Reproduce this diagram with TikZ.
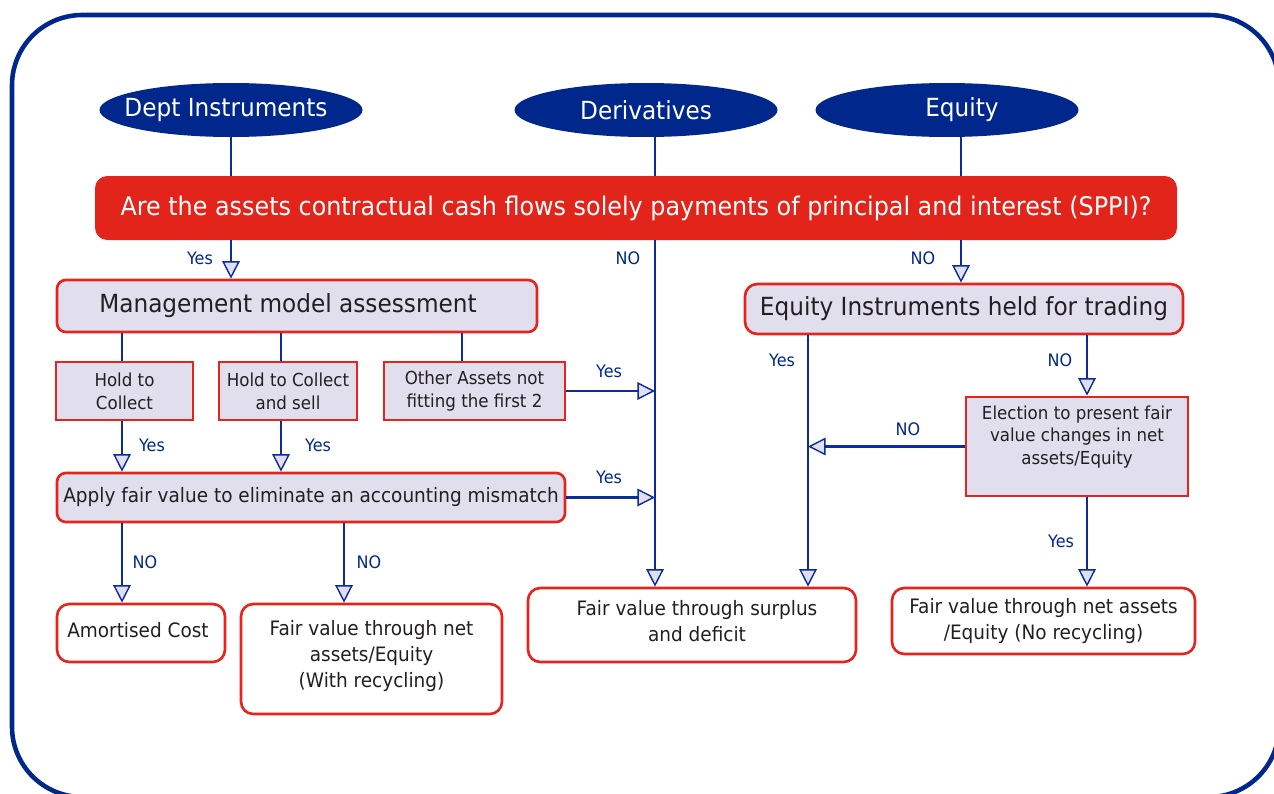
\documentclass[tikz,border=0pt]{standalone}
\usepackage{fontspec}
\setmainfont{DejaVu Sans}[FakeStretch=0.93]
\usetikzlibrary{arrows.meta,shapes.geometric,calc}
\definecolor{navy}{RGB}{0,40,140}
\definecolor{lnblue}{RGB}{10,45,155}
\definecolor{boxred}{RGB}{230,36,30}
\definecolor{sppired}{RGB}{227,36,27}
\definecolor{lav}{RGB}{225,222,238}
\definecolor{ink}{RGB}{35,31,32}
\newlength\pxu
\setlength\pxu{0.02cm}
\newcommand\fbig{\fontsize{14.2}{17}\selectfont}
\newcommand\fsppi{\fontsize{14.6}{17}\selectfont}
\newcommand\fmid{\fontsize{11.3}{14.8}\selectfont}
\newcommand\fsm{\fontsize{10.2}{13}\selectfont}
\newcommand\flab{\fontsize{9.8}{11}\selectfont}
\tikzset{
  ell/.style={ellipse, fill=navy, draw=none, text=white, inner sep=0pt, minimum width=263\pxu, minimum height=54\pxu, font=\fbig},
  sppibox/.style={rectangle, rounded corners=7pt, fill=sppired, draw=none, text=white, inner sep=0pt, font=\fsppi},
  rbox/.style={rectangle, rounded corners=5pt, fill=lav, draw=boxred, line width=1.5pt, text=ink, inner sep=0pt, align=center},
  sbox/.style={rectangle, fill=lav, draw=boxred, line width=1.5pt, text=ink, inner sep=0pt, align=center},
  wbox/.style={rectangle, rounded corners=7pt, fill=white, draw=boxred, line width=1.5pt, text=ink, inner sep=0pt, align=center, font=\fmid},
  txt/.style={text=ink, inner sep=0pt, align=center},
  conn/.style={draw=lnblue, line width=1.4pt},
  arr/.style={conn, -{Triangle[length=10pt, width=10pt, fill=lav, line width=0.8pt]}},
  lab/.style={text=navy, inner sep=0pt, font=\flab},
  frame/.style={draw=navy, line width=2.6pt, rounded corners=40pt}
}
\begin{document}
\begin{tikzpicture}[x=0.02cm, y=-0.02cm]
\path[use as bounding box, clip] (0,0) rectangle (1274,794);
\draw[frame] (12,15) rectangle (1279,797);
% column coordinates
\coordinate (xD) at (655,0);
\coordinate (xE) at (961,0);
\coordinate (xA) at (122,0);
\coordinate (xB) at (281,0);
\coordinate (xC) at (462,0);
\coordinate (xF) at (344,0);
\coordinate (xY) at (808,0);
\coordinate (xN) at (1087,0);
% top ellipses
\node[ell] (dept) at (231,110) {\makebox[0pt]{\hspace*{-10\pxu}Dept Instruments}};
\node[ell] (deriv) at (646,110) {\makebox[0pt]{Derivatives}};
\node[ell] (equity) at (947,110) {\makebox[0pt]{\hspace*{30\pxu}Equity}};
% SPPI
\node[sppibox, minimum width=1082\pxu, minimum height=64\pxu] (sppi) at (636,208) {Are the assets contractual cash flows solely payments of principal and interest (SPPI)?};
% management
\node[rbox, minimum width=480\pxu, minimum height=52\pxu, font=\fbig] (mgmt) at (297,306) {\hspace*{-18\pxu}Management model assessment};
\node[sbox, minimum width=137\pxu, minimum height=58\pxu, font=\fsm] (htc) at (124.5,391) {Hold to\\Collect};
\node[sbox, minimum width=138\pxu, minimum height=58\pxu, font=\fsm] (htcs) at (288,391) {Hold to Collect\\and sell};
\node[sbox, minimum width=181\pxu, minimum height=58\pxu, font=\fsm] (other) at (474.5,391) {Other Assets not\\fitting the first 2};
\node[rbox, minimum width=508\pxu, minimum height=49\pxu, font=\fmid] (apply) at (311,497.5) {Apply fair value to eliminate an accounting mismatch};
% equity side
\node[rbox, rounded corners=7pt, minimum width=438\pxu, minimum height=50\pxu, font=\fbig] (eqi) at (964,309) {Equity Instruments held for trading};
\node[sbox, minimum width=222\pxu, minimum height=99\pxu] (elect) at (1077,446.5) {};
\node[txt, font=\fsm] (electT) at (1077,437) {Election to present fair\\value changes in net\\assets/Equity};
% outcomes
\node[wbox, minimum width=168\pxu, minimum height=58\pxu] (amort) at (141,633) {};
\node[txt, font=\fmid] (amortT) at (138,630) {Amortised Cost};
\node[wbox, minimum width=261\pxu, minimum height=110\pxu] (fvrec) at (371.5,659) {};
\node[txt, font=\fmid] (fvrecT) at (371.5,656) {Fair value through net\\assets/Equity\\(With recycling)};
\node[wbox, minimum width=328\pxu, minimum height=74\pxu] (surplus) at (692,625) {};
\node[txt, font=\fmid] (surplusT) at (697,621) {Fair value through surplus\\and deficit};
\node[wbox, minimum width=303\pxu, minimum height=66\pxu] (fvno) at (1043.5,621) {Fair value through net assets\\/Equity (No recycling)};
% connectors from ellipses
\draw[conn] (dept.south) -- (dept.south |- sppi.north);
\draw[conn] (xD |- deriv.south) -- (xD |- sppi.north);
\draw[conn] (xE |- equity.south) -- (xE |- sppi.north);
% from SPPI
\draw[arr] (dept.south |- sppi.south) -- (dept.south |- mgmt.north);
\draw[arr] (xD |- sppi.south) -- (xD |- surplus.north);
\draw[arr] (xE |- sppi.south) -- (xE |- eqi.north);
% management model
\draw[conn] (xA |- mgmt.south) -- (xA |- htc.north);
\draw[conn] (xB |- mgmt.south) -- (xB |- htcs.north);
\draw[conn] (xC |- mgmt.south) -- (xC |- other.north);
\draw[arr] (xA |- htc.south) -- (xA |- apply.north);
\draw[arr] (xB |- htcs.south) -- (xB |- apply.north);
\draw[arr] (other.east) -- (xD |- other.east);
\draw[arr] (apply.east) -- (xD |- apply.east);
\draw[arr] (xA |- apply.south) -- (xA |- amort.north);
\draw[arr] (xF |- apply.south) -- (xF |- fvrec.north);
% equity side
\draw[arr] (xY |- eqi.south) -- (xY |- surplus.north);
\draw[arr] (xN |- eqi.south) -- (xN |- elect.north);
\draw[arr] (elect.west) -- (xY |- elect.west);
\draw[arr] (xN |- elect.south) -- (xN |- fvno.north);
% labels
\node[lab] (l1) at (200,258) {Yes};
\node[lab] (l2) at (628,258) {NO};
\node[lab] (l3) at (923,258) {NO};
\node[lab] (l4) at (152,445) {Yes};
\node[lab] (l5) at (318,445) {Yes};
\node[lab] (l6) at (609,371) {Yes};
\node[lab] (l7) at (609,477) {Yes};
\node[lab] (l8) at (782,360) {Yes};
\node[lab] (l9) at (1060,360) {NO};
\node[lab] (l10) at (908,429) {NO};
\node[lab] (l11) at (1061,541) {Yes};
\node[lab] (l12) at (145,562) {NO};
\node[lab] (l13) at (369,562) {NO};
\end{tikzpicture}
\end{document}
